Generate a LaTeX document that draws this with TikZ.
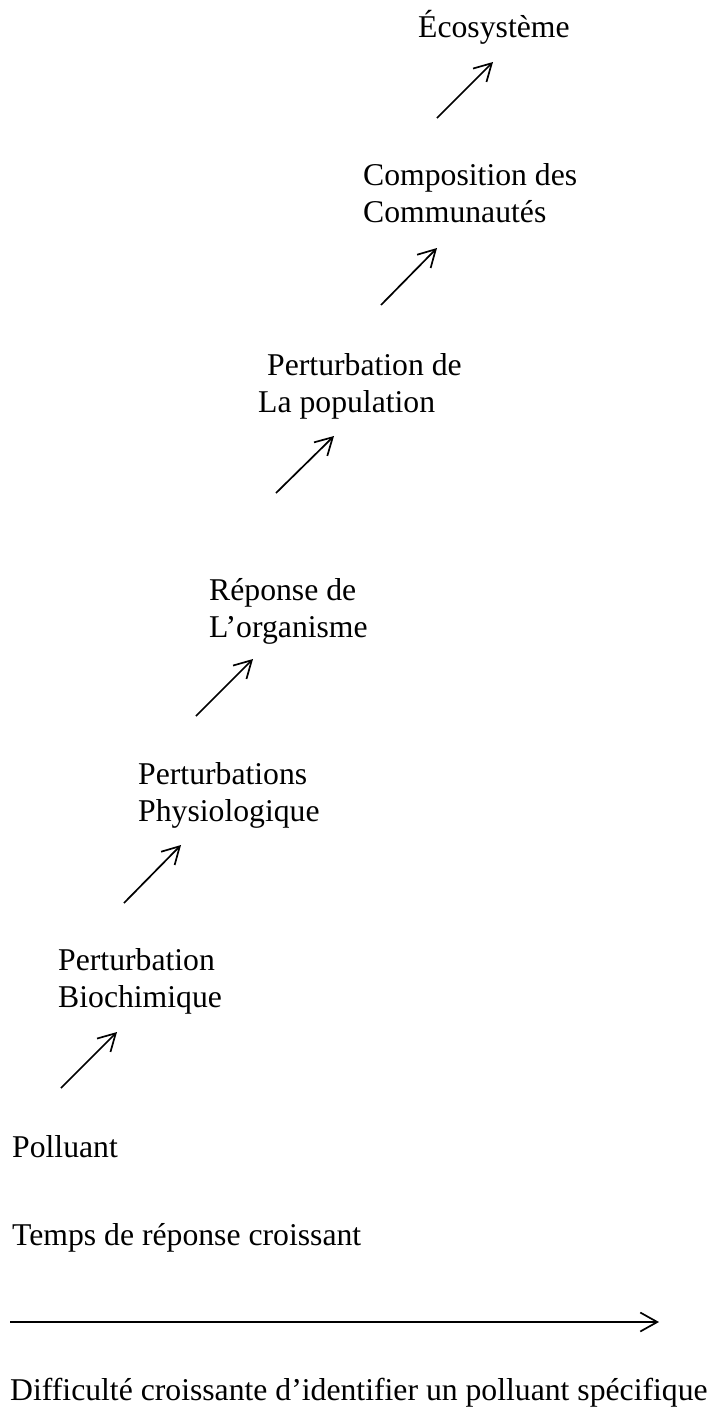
\documentclass[tikz,border=0pt]{standalone}
\usepackage{fontspec}
\setmainfont{Liberation Serif}[Ligatures=NoCommon]
\usetikzlibrary{arrows.meta}
\tikzset{
  lbl/.style={anchor=base west, inner sep=0pt, align=left, font=\fontsize{31.7}{36.5}\selectfont},
  arr/.style={line width=1.7pt, -{Straight Barb[length=17pt,width=19pt]}}
}
\begin{document}
\begin{tikzpicture}[x=1pt,y=-1pt]
\useasboundingbox (0,0) rectangle (718,1409);
% labels (base anchor = baseline of the last line)
\node[lbl] (eco)   at (418,37)   {Écosystème};
\node[lbl] (comm)  at (363,222)  {Composition des\\Communautés};
\node[lbl] (popu)  at (258,412)  {\hspace*{9pt}Perturbation de\\La population};
\node[lbl] (orga)  at (209,637)  {Réponse de\\L’organisme};
\node[lbl] (physio) at (138,821) {Perturbations\\Physiologique};
\node[lbl] (bioch) at (58,1007)  {Perturbation\\Biochimique};
\node[lbl] (poll)  at (12,1157)  {Polluant};
\node[lbl] (temps) at (12,1245)  {Temps de réponse croissant};
\node[lbl] (diff)  at (10,1400)  {Difficulté croissante d’identifier un polluant spécifique};
% arrow end points
\coordinate (a1s) at (437,118);  \coordinate (a1e) at (493,62);
\coordinate (a2s) at (381,305);  \coordinate (a2e) at (437,248);
\coordinate (a3s) at (276,493);  \coordinate (a3e) at (334,436);
\coordinate (a4s) at (196,716);  \coordinate (a4e) at (253,659);
\coordinate (a5s) at (124,903);  \coordinate (a5e) at (181,845);
\coordinate (a6s) at (61,1088);  \coordinate (a6e) at (117,1032);
\coordinate (hs) at (10,1322);   \coordinate (he) at (659,1322);
\draw[arr] (a1s) -- (a1e);
\draw[arr] (a2s) -- (a2e);
\draw[arr] (a3s) -- (a3e);
\draw[arr] (a4s) -- (a4e);
\draw[arr] (a5s) -- (a5e);
\draw[arr] (a6s) -- (a6e);
\draw[arr] (hs) -- (he);
\end{tikzpicture}
\end{document}
